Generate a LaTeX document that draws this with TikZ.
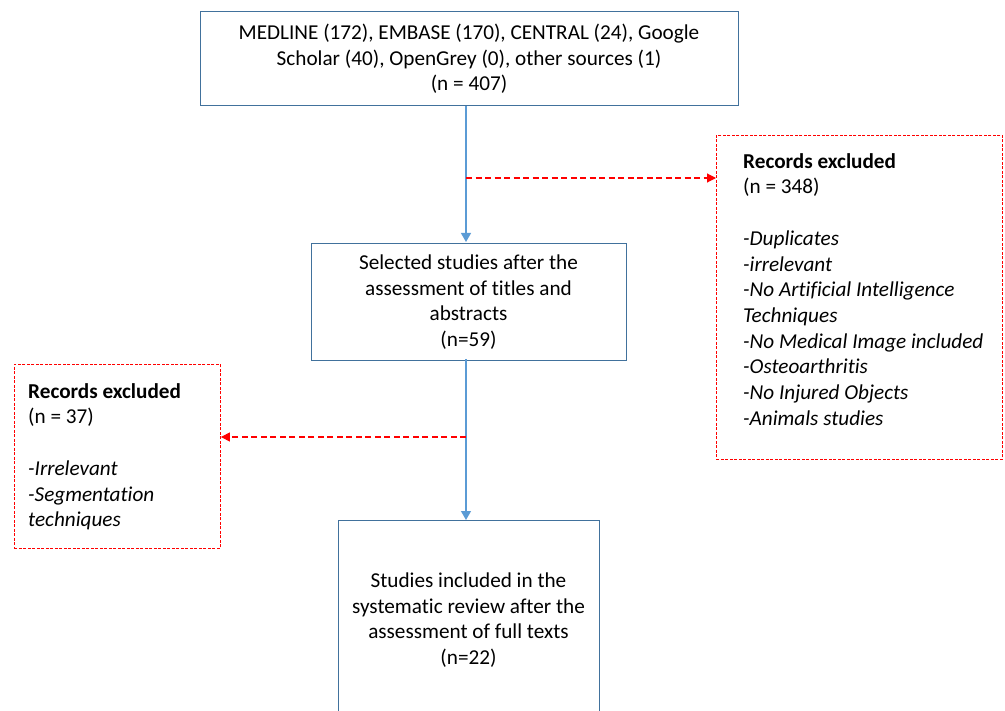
\documentclass[tikz,border=0pt]{standalone}
\usepackage{fontspec}
\setmainfont{Carlito}[RawFeature={-liga}]
\usetikzlibrary{arrows.meta}
\definecolor{boxblue}{RGB}{65,113,156}
\definecolor{arrblue}{RGB}{91,155,213}
\definecolor{exred}{RGB}{255,0,0}
\tikzset{
  mainbox/.style={draw=boxblue, line width=1pt, inner sep=0pt, align=center},
  exbox/.style={draw=exred, line width=0.9pt, dash pattern=on 3pt off 1.5pt, inner sep=0pt},
  txt/.style={inner sep=0pt, align=left, anchor=north west},
  flow/.style={draw=arrblue, line width=1.2pt, -{Triangle[width=10pt,length=9pt]}},
  exflow/.style={draw=exred, line width=1.1pt, dash pattern=on 6pt off 3.5pt, -{Triangle[width=9pt,length=9pt]}},
}
\begin{document}
\begin{tikzpicture}[x=1pt,y=-1pt, every node/.style={font=\fontsize{21.2}{25.7}\selectfont}]
\useasboundingbox (0,0) rectangle (1005,711);
\clip (0,0) rectangle (1005,711);
\node[mainbox, minimum width=538pt, minimum height=94pt] (top) at (469,59)
  {MEDLINE (172), EMBASE (170), CENTRAL (24), Google\\Scholar (40), OpenGrey (0), other sources (1)\\(n = 407)};
\node[mainbox, minimum width=315pt, minimum height=117pt] (mid) at (468.5,302)
  {Selected studies after the\\assessment of titles and\\abstracts\\(n=59)};
\node[mainbox, minimum width=261pt, minimum height=199pt, anchor=north] (bot) at (468.5,520)
  {Studies included in the\\systematic review after the\\assessment of full texts\\(n=22)};
\node[exbox, minimum width=286pt, minimum height=324pt, anchor=north west] (right) at (716,135) {};
\node[txt] (righttxt) at (743,153)
  {\textbf{Records excluded}\\(n = 348)\\[26pt]\textit{-Duplicates}\\\textit{-irrelevant}\\\textit{-No Artificial Intelligence}\\\textit{Techniques}\\\textit{-No Medical Image included}\\\textit{-Osteoarthritis}\\\textit{-No Injured Objects}\\\textit{-Animals studies}};
\node[exbox, minimum width=206pt, minimum height=184pt, anchor=north west] (left) at (14,364) {};
\node[txt] (lefttxt) at (28,383)
  {\textbf{Records excluded}\\(n = 37)\\[26pt]\textit{-Irrelevant}\\\textit{-Segmentation}\\\textit{techniques}};
\coordinate (t1) at (466,106);
\coordinate (b1) at (466,242);
\coordinate (s1) at (466,178);
\coordinate (t2) at (466,359);
\coordinate (b2) at (466,520);
\coordinate (s2) at (466,437);
\draw[flow] (t1) -- (b1);
\draw[flow] (t2) -- (b2);
\draw[exflow] (s1) -- (s1 -| right.west);
\draw[exflow] (s2) -- (s2 -| left.east);
\end{tikzpicture}
\end{document}
